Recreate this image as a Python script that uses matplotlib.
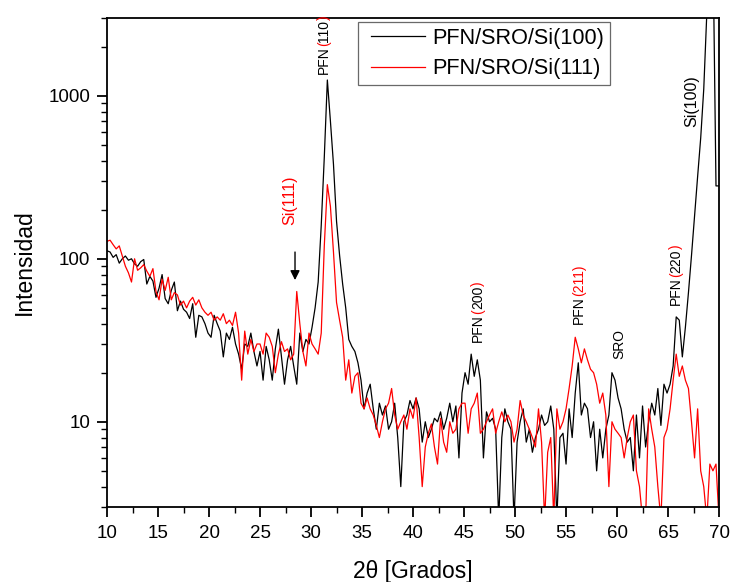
import numpy as np
import matplotlib
matplotlib.use('Agg')
import matplotlib.pyplot as plt
from matplotlib.font_manager import FontProperties
from matplotlib.lines import Line2D
from matplotlib.legend_handler import HandlerLine2D
from matplotlib.ticker import MultipleLocator, LogLocator, FuncFormatter, NullFormatter

plt.rcParams['font.family'] = ['Liberation Sans', 'DejaVu Sans']

# 2theta scan, 0.3 deg step
two_theta = np.round(np.arange(10.0, 70.01, 0.3), 1)

# PFN/SRO/Si(100) - black
si100 = [
    112, 110, 102, 106, 94, 100, 104, 98, 100, 93,
    90, 96, 99, 70, 78, 73, 58, 66, 80, 57,
    53, 64, 72, 48, 55, 49, 47, 43, 53, 33,
    45, 44, 40, 35, 33, 45, 40, 36, 25, 35,
    32, 38, 30, 26, 21, 30, 29, 35, 27, 22,
    27, 18, 29, 24, 18, 28, 37, 25, 17, 24,
    29, 22, 17, 35, 27, 32, 30, 38, 50, 72,
    160, 420, 1250, 700, 380, 170, 105, 70, 50, 32,
    29, 27, 23, 18, 12, 15, 17, 12, 9, 13,
    11, 12.5, 9, 10, 13, 8, 4, 10, 11, 13.5,
    12, 14, 12, 7.5, 10, 8, 9, 10.5, 10, 11.5,
    9, 10.5, 13, 10, 12.5, 6, 15, 20, 17, 26,
    19, 24, 18, 6, 11.5, 10, 10.5, 9, 2.5, 8,
    12, 10, 9, 2.5, 7.5, 10, 12, 7.5, 9, 6.5,
    8, 9, 11, 9.5, 10, 12.5, 9, 2.5, 8, 8.5,
    5.5, 12, 8, 15, 23, 11, 13, 12, 8, 10,
    5, 9, 6, 9, 11, 20, 18, 14, 12, 9,
    7.5, 8, 5, 11, 6, 12.5, 7, 10, 13, 11,
    16, 9.5, 17, 15, 17, 22, 44, 42, 25, 38,
    62, 105, 185, 320, 550, 1100, 3200, 7000, 9000, 280,
    280,
]

# PFN/SRO/Si(111) - red
si111 = [
    128, 130, 122, 115, 120, 104, 90, 82, 72, 100,
    85, 88, 92, 84, 78, 87, 63, 56, 75, 64,
    77, 56, 62, 60, 52, 55, 50, 55, 58, 52,
    56, 50, 47, 45, 47, 42, 44, 42, 46, 40,
    42, 39, 47, 35, 18, 36, 26, 32, 27, 30,
    30, 26, 35, 33, 29, 20, 26, 31, 27, 28,
    24, 26, 63, 40, 27, 22, 35, 30, 28, 26,
    35, 120, 285, 210, 110, 54, 42, 33, 18, 24,
    15, 19, 20, 13, 12, 14, 12, 11, 9.5, 8,
    10, 12, 13, 16, 11, 9, 10, 11, 9, 12,
    10.5, 14, 8, 4, 7, 8.5, 9.7, 7, 5.5, 10.5,
    7.5, 6.5, 10, 8.5, 9, 12, 13, 13, 8.5, 12,
    13, 15, 8.5, 9, 10, 11, 12, 8.5, 10, 11.5,
    10, 11, 10, 7.5, 9, 13.5, 11, 10, 9, 8,
    7, 12, 7.5, 2.5, 6.5, 8, 2.5, 12, 9, 10,
    12, 16, 22, 33, 28, 23, 28, 24, 21, 20,
    17, 13, 15, 11, 4, 10, 9, 8.5, 8, 6,
    8, 10, 11, 5, 4, 2.5, 2.5, 12, 9, 7,
    4, 2.5, 8, 9, 12, 18, 26, 19, 22, 18,
    16, 10, 6, 12, 5, 4, 2.5, 5.5, 5, 5.5,
    2.5,
]

series_names = ['PFN/SRO/Si(100)', 'PFN/SRO/Si(111)']

# peak labels: (2theta, intensity at label bottom, [(text, colour), ...], size)
peak_labels = [
    (31.2, 1360, [('PFN', 'k'), ('(', 'r'), ('110', 'k'), (')', 'r')], 10),
    (27.75, 162, [('Si(111)', 'r')], 11.5),
    (46.27, 31, [('PFN', 'k'), ('(', 'r'), ('200', 'k'), (')', 'r')], 10),
    (56.18, 40, [('PFN', 'k'), ('(211)', 'r')], 10),
    (60.1, 24.4, [('SRO', 'k')], 10),
    (65.69, 52, [('PFN', 'k'), ('(', 'r'), ('220', 'k'), (')', 'r')], 10),
    (67.25, 646, [('Si(100)', 'k')], 11.5),
]

fig = plt.figure(figsize=(7.3, 5.82), dpi=100)
ax = fig.add_axes([0.1466, 0.1289, 0.8384, 0.8401])

ax.plot(two_theta, si100, color='black', lw=0.9, label=series_names[0])
ax.plot(two_theta, si111, color='red', lw=0.9, label=series_names[1])

ax.set_yscale('log')
ax.set_xlim(10, 70)
ax.set_ylim(3, 3000)

ax.xaxis.set_major_locator(MultipleLocator(5))
ax.xaxis.set_minor_locator(MultipleLocator(2.5))
ax.yaxis.set_major_locator(LogLocator(base=10))
ax.yaxis.set_minor_locator(LogLocator(base=10, subs=np.arange(2, 10)))
ax.yaxis.set_major_formatter(FuncFormatter(lambda v, p: f'{v:g}'))
ax.yaxis.set_minor_formatter(NullFormatter())

ax.tick_params(which='both', direction='out', top=False, right=False, labelsize=13.5)
ax.tick_params(which='major', length=7, width=1.3)
ax.tick_params(which='minor', length=4, width=1.0)
ax.tick_params(axis='x', pad=6)
ax.tick_params(axis='y', pad=5)
for s in ax.spines.values():
    s.set_linewidth(1.3)

ax.set_xlabel('2θ [Grados]', fontsize=16.5, labelpad=13)
ax.set_ylabel('Intensidad', fontsize=16.5, labelpad=9)

# vertical multi-colour peak labels, pieces stacked using measured ink widths
renderer = fig.canvas.get_renderer()


def ink_width(s, size):
    prop = FontProperties(family='Liberation Sans', size=size)
    return renderer.get_text_width_height_descent(s, prop, ismath=False)[0] * 72 / fig.dpi


for x, y, parts, size in peak_labels:
    prefix = ''
    for s, c in parts:
        off = 0.0
        if prefix:
            off = ink_width(prefix + s[0], size) - ink_width(s[0], size)
        ax.annotate(s, xy=(x, y), xytext=(0.36 * size, off),
                    textcoords='offset points', rotation=90, rotation_mode='anchor',
                    ha='left', va='baseline', color=c, fontsize=size)
        prefix += s

# arrow at Si(111) peak
ax.annotate('', xy=(28.43, 74), xytext=(28.43, 110),
            arrowprops=dict(arrowstyle='-|>', color='black', lw=1.0,
                            mutation_scale=14, shrinkA=0, shrinkB=0))

leg = ax.legend(loc='upper left', bbox_to_anchor=(0.41, 0.992), borderaxespad=0,
                fontsize=15.6, fancybox=False, handlelength=2.8,
                handletextpad=0.35, labelspacing=0.42, borderpad=0.28,
                handler_map={Line2D: HandlerLine2D(xpad=0.33)})
leg.get_frame().set_edgecolor('#444444')
leg.get_frame().set_linewidth(0.9)

fig.savefig('out.png', dpi=100)
